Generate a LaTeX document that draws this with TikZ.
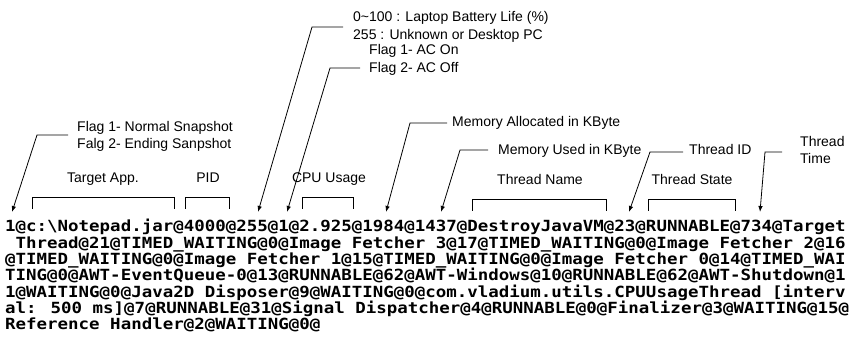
\documentclass[tikz,border=0pt]{standalone}
\usepackage{fontspec}
\usepackage{graphicx}
\setmainfont{Liberation Sans}
\newfontfamily\codefont{DejaVu Sans Mono}
\newcommand{\codeline}[1]{\scalebox{1}[0.88]{#1}}
\usetikzlibrary{arrows.meta}
\begin{document}
\begin{tikzpicture}[x=1pt,y=-1pt,
  lbl/.style={font=\fontsize{14}{16}\selectfont, inner sep=0pt, anchor=base west},
  lblc/.style={font=\fontsize{14}{16}\selectfont, inner sep=0pt, anchor=base},
  code/.style={font=\codefont\bfseries\fontsize{17.45}{18}\selectfont, inner sep=0pt, anchor=base west},
  leader/.style={line width=0.8pt, -{Latex[length=6pt,width=4.5pt]}},
  brk/.style={line width=0.8pt}]
\useasboundingbox[fill=white] (0,0) rectangle (849,347);

% code lines
\node[code] (l1) at (5,232) {\codeline{1@c:\textbackslash Notepad.jar@4000@255@1@2.925@1984@1437@DestroyJavaVM@23@RUNNABLE@734@Target}};
\node[code] (l2) at (15.5,248.3) {\codeline{Thread@21@TIMED\_WAITING@0@Image Fetcher 3@17@TIMED\_WAITING@0@Image Fetcher 2@16}};
\node[code] (l3) at (5,264.6) {\codeline{@TIMED\_WAITING@0@Image Fetcher 1@15@TIMED\_WAITING@0@Image Fetcher 0@14@TIMED\_WAI}};
\node[code] (l4) at (5,280.9) {\codeline{TING@0@AWT-EventQueue-0@13@RUNNABLE@62@AWT-Windows@10@RUNNABLE@62@AWT-Shutdown@1}};
\node[code] (l5) at (5,297.2) {\codeline{1@WAITING@0@Java2D Disposer@9@WAITING@0@com.vladium.utils.CPUUsageThread [interv}};
\node[code] (l6) at (5,313.5) {\codeline{al: 500 ms]@7@RUNNABLE@31@Signal Dispatcher@4@RUNNABLE@0@Finalizer@3@WAITING@15@}};
\node[code] (l7) at (5,329.8) {\codeline{Reference Handler@2@WAITING@0@}};

% labels
\node[lbl] (bat1) at (353,22) {0\textasciitilde100 : Laptop Battery Life (\%)};
\node[lbl] (bat2) at (353,40) {255 : Unknown or Desktop PC};
\node[lbl] (ac1) at (369,55) {Flag 1- AC On};
\node[lbl] (ac2) at (369,73) {Flag 2- AC Off};
\node[lbl] (fl1) at (77,132) {Flag 1- Normal Snapshot};
\node[lbl] (fl2) at (77,149) {Falg 2- Ending Sanpshot};
\node[lblc] (tapp) at (103,183) {Target App.};
\node[lblc] (pid) at (208,183) {PID};
\node[lblc] (cpu) at (329,183) {CPU Usage};
\node[lbl] (memA) at (452,127) {Memory Allocated in KByte};
\node[lbl] (memU) at (498,155) {Memory Used in KByte};
\node[lbl] (tid) at (689,155) {Thread ID};
\node[lbl] (tt1) at (800,147) {Thread};
\node[lbl] (tt2) at (800,164) {Time};
\node[lblc] (tname) at (540,185) {Thread Name};
\node[lblc] (tstate) at (692,185) {Thread State};

% leader coordinates
\coordinate (batS) at (343,27);  \coordinate (batK) at (312,27);  \coordinate (batT) at (258,212);
\coordinate (acS)  at (360,68);  \coordinate (acK)  at (330,68);  \coordinate (acT)  at (287,212);
\coordinate (flS)  at (68,135);  \coordinate (flK)  at (37,135);  \coordinate (flT)  at (12,212);
\coordinate (maS)  at (447,123); \coordinate (maK)  at (410,123); \coordinate (maT)  at (386,212);
\coordinate (muS)  at (488,150); \coordinate (muK)  at (460,150); \coordinate (muT)  at (441,212);
\coordinate (tiS)  at (683,152); \coordinate (tiK)  at (650,152); \coordinate (tiT)  at (629,212);
\coordinate (ttS)  at (782,152); \coordinate (ttK)  at (765,152); \coordinate (ttT)  at (760,212);

\draw[leader] (batS) -- (batK) -- (batT);
\draw[leader] (acS) -- (acK) -- (acT);
\draw[leader] (flS) -- (flK) -- (flT);
\draw[leader] (maS) -- (maK) -- (maT);
\draw[leader] (muS) -- (muK) -- (muT);
\draw[leader] (tiS) -- (tiK) -- (tiT);
\draw[leader] (ttS) -- (ttK) -- (ttT);

% brackets
\draw[brk] (32,209) -- (32,197) -- (174,197) -- (174,209);
\draw[brk] (185,209) -- (185,197) -- (229,197) -- (229,209);
\draw[brk] (302,209) -- (302,197) -- (353,197) -- (353,209);
\draw[brk] (472,211) -- (472,199) -- (606,199) -- (606,211);
\draw[brk] (648,211) -- (648,199) -- (735,199) -- (735,211);
\end{tikzpicture}
\end{document}
